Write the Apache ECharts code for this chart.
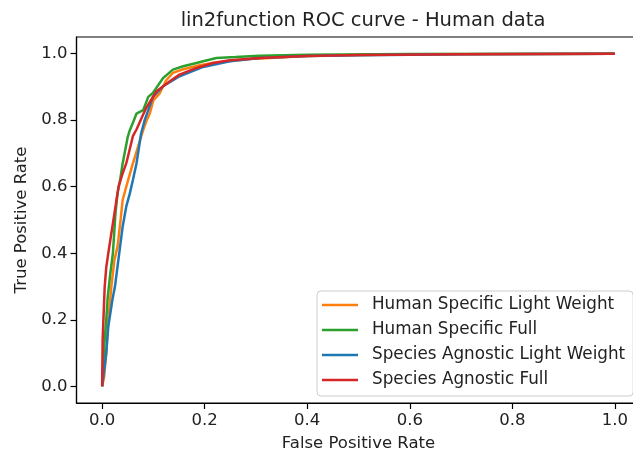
<!DOCTYPE html>
<html>
<head>
<meta charset="utf-8">
<script src="https://cdn.jsdelivr.net/npm/echarts@6/dist/echarts.min.js"></script>
<style>html,body{margin:0;padding:0;background:#fff}#c{width:633px;height:455px}</style>
</head>
<body>
<div id="c"></div>
<script>
var tickValues = [0, 0.2, 0.4, 0.6, 0.8, 1.0];
var seriesNames = ['Human Specific Light Weight', 'Human Specific Full', 'Species Agnostic Light Weight', 'Species Agnostic Full'];
var colors = ['#ff7f0e', '#2ca02c', '#1f77b4', '#d62728'];

var humanLight = [[0,0],[0.004,0.03],[0.008,0.1],[0.012,0.2],[0.018,0.3],[0.024,0.38],[0.03,0.42],[0.036,0.5],[0.04,0.56],[0.047,0.6],[0.06,0.67],[0.072,0.73],[0.08,0.77],[0.087,0.8],[0.093,0.82],[0.1,0.86],[0.112,0.88],[0.125,0.92],[0.138,0.942],[0.158,0.953],[0.19,0.965],[0.216,0.972],[0.25,0.978],[0.3,0.985],[0.4,0.993],[0.5,0.996],[0.6,0.998],[0.8,0.999],[1,1]];
var humanFull = [[0,0],[0.004,0.12],[0.008,0.2],[0.011,0.27],[0.016,0.34],[0.021,0.4],[0.026,0.52],[0.03,0.58],[0.035,0.62],[0.04,0.67],[0.05,0.75],[0.054,0.77],[0.062,0.8],[0.067,0.82],[0.08,0.83],[0.09,0.87],[0.099,0.882],[0.119,0.927],[0.138,0.952],[0.158,0.962],[0.184,0.972],[0.197,0.977],[0.223,0.987],[0.26,0.99],[0.307,0.994],[0.4,0.997],[0.6,0.999],[1,1]];
var agnosticLight = [[0,0],[0.004,0.05],[0.008,0.1],[0.012,0.18],[0.015,0.21],[0.02,0.26],[0.025,0.3],[0.03,0.36],[0.035,0.42],[0.04,0.48],[0.047,0.54],[0.054,0.58],[0.06,0.62],[0.067,0.67],[0.076,0.76],[0.083,0.8],[0.09,0.83],[0.099,0.87],[0.119,0.902],[0.151,0.932],[0.197,0.96],[0.249,0.977],[0.307,0.987],[0.4,0.993],[0.5,0.995],[0.7,0.998],[1,1]];
var agnosticFull = [[0,0],[0.001,0.14],[0.003,0.22],[0.005,0.3],[0.008,0.357],[0.012,0.4],[0.018,0.46],[0.024,0.52],[0.028,0.56],[0.032,0.6],[0.04,0.64],[0.047,0.67],[0.055,0.72],[0.06,0.752],[0.067,0.772],[0.08,0.817],[0.086,0.837],[0.1,0.872],[0.106,0.887],[0.119,0.902],[0.132,0.917],[0.151,0.937],[0.184,0.957],[0.216,0.972],[0.249,0.98],[0.307,0.987],[0.4,0.993],[0.5,0.996],[0.7,0.998],[1,1]];
var allData = [humanLight, humanFull, agnosticLight, agnosticFull];

var font = 'DejaVu Sans';
var chart = echarts.init(document.getElementById('c'));
var axisCommon = {
  type: 'value', min: -0.05, max: 1.05,
  splitLine: { show: false },
  axisLine: { show: true, onZero: false, lineStyle: { color: '#000', width: 1.2 } },
  axisTick: { show: true, customValues: tickValues, length: 6, lineStyle: { color: '#000', width: 1.2 } },
  axisLabel: { customValues: tickValues, color: '#222', fontFamily: font, fontSize: 16.5, formatter: function (v) { return v.toFixed(1); } },
  nameLocation: 'middle',
  nameTextStyle: { color: '#222', fontFamily: font, fontSize: 16.5 }
};
chart.setOption({
  animation: false,
  title: { text: 'lin2function ROC curve - Human data', left: 358, top: 6, textAlign: 'center',
    textStyle: { color: '#222', fontFamily: font, fontSize: 19.5, fontWeight: 'normal' } },
  grid: { left: 76.5, top: 37, width: 564, height: 366, show: true, borderColor: '#000', borderWidth: 1.2,
    containLabel: false, outerBoundsMode: 'none' },
  xAxis: Object.assign({}, axisCommon, { name: 'False Positive Rate', nameGap: 32,
    axisLabel: Object.assign({}, axisCommon.axisLabel, { margin: 9 }) }),
  yAxis: Object.assign({}, axisCommon, { name: 'True Positive Rate', nameGap: 46,
    axisLabel: Object.assign({}, axisCommon.axisLabel, { margin: 9 }) }),
  legend: {
    orient: 'vertical', left: 317, top: 291, icon: 'rect', itemWidth: 36, itemHeight: 2.5, itemGap: 5,
    padding: [4, 8, 6, 5], backgroundColor: '#fff', borderColor: '#ccc', borderWidth: 1, borderRadius: 4,
    textStyle: { color: '#222', fontFamily: font, fontSize: 16.8, lineHeight: 20, padding: [0, 0, 0, 9] },
    data: seriesNames
  },
  series: allData.map(function (d, i) {
    return { name: seriesNames[i], type: 'line', data: d, showSymbol: false, symbol: 'none',
      lineStyle: { color: colors[i], width: 2.5 }, itemStyle: { color: colors[i] } };
  })
});
</script>
</body>
</html>
